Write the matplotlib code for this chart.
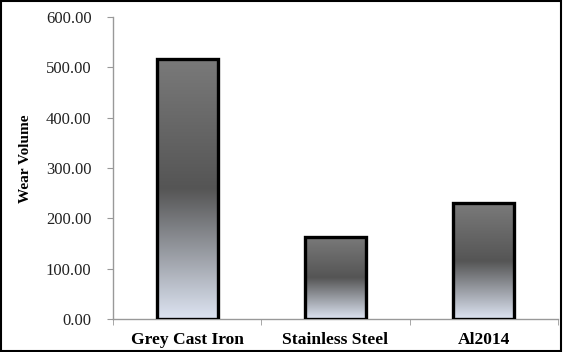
import matplotlib
matplotlib.use("Agg")
import matplotlib.pyplot as plt
import numpy as np
from matplotlib.colors import LinearSegmentedColormap
from matplotlib.patches import Rectangle

categories = ["Grey Cast Iron", "Stainless Steel", "Al2014"]
values = [517.0, 163.0, 230.0]
yticks = [0, 100, 200, 300, 400, 500, 600]

plt.rcParams['font.family'] = ['Liberation Serif', 'DejaVu Serif']

fig = plt.figure(figsize=(5.63, 3.52), dpi=100)
ax = fig.add_axes([113/563, (352-319)/352, (558-113)/563, (319-17)/352])

x = np.arange(len(categories))
width = 0.41
bars = ax.bar(x, values, width=width, color='none', edgecolor='black', linewidth=2.4, zorder=3)

cmap = LinearSegmentedColormap.from_list('g', [(0.0, '#dde4f2'), (0.5, '#555555'), (1.0, '#7a7a7a')])
grad = np.linspace(0, 1, 256).reshape(-1, 1)
for b in bars:
    x0, y0 = b.get_x(), b.get_y()
    w, h = b.get_width(), b.get_height()
    im = ax.imshow(grad, cmap=cmap, aspect='auto', origin='lower',
                   extent=[x0, x0 + w, y0, y0 + h], zorder=2)
    clip = Rectangle((x0, y0), w, h, transform=ax.transData, facecolor='none', edgecolor='none')
    ax.add_patch(clip)
    im.set_clip_path(clip)

ax.set_xlim(-0.5, len(categories) - 0.5)
ax.set_ylim(0, 600)
ax.set_yticks(yticks)
ax.set_yticklabels([f"{v:.2f}" for v in yticks], fontsize=12, color='#222222')
ax.set_xticks(x)
ax.set_xticklabels(categories, fontsize=12.6, fontweight='bold')
ax.set_xticks(np.arange(len(categories) + 1) - 0.5, minor=True)
ax.tick_params(axis='x', which='major', length=0, pad=9)
ax.tick_params(axis='x', which='minor', length=4, color='#999999', direction='out')
ax.tick_params(axis='y', length=4.5, color='#999999', direction='out', pad=11)
ax.set_ylabel("Wear Volume", fontsize=11, fontweight='bold')
ax.yaxis.set_label_coords((32 - 113) / 445, (319 - 159) / 302)

for s in ['top', 'right']:
    ax.spines[s].set_visible(False)
for s in ['left', 'bottom']:
    ax.spines[s].set_color('#999999')
    ax.spines[s].set_linewidth(1.0)

fig.patches.append(Rectangle((0.002, 0.003), 0.995, 0.994, transform=fig.transFigure,
                             fill=False, edgecolor='black', linewidth=1.5))

fig.savefig("out.png", dpi=100)
